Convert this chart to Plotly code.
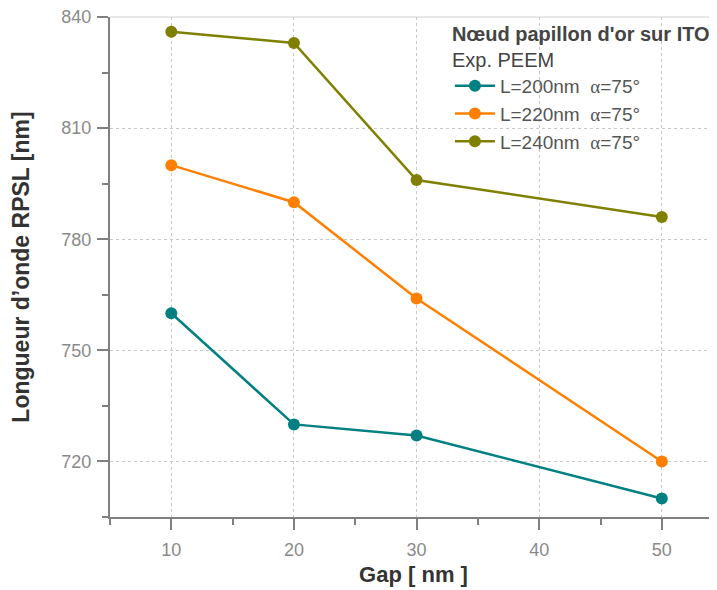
import plotly.graph_objects as go

gap = [10, 20, 30, 50]
l200 = [760, 730, 727, 710]
l220 = [800, 790, 764, 720]
l240 = [836, 833, 796, 786]
names = ["L=200nm", "L=220nm", "L=240nm"]
colors = ["#008080", "#FF8000", "#808000"]
series = [l200, l220, l240]

fig = go.Figure()
for nm, ys, c in zip(names, series, colors):
    fig.add_trace(go.Scatter(
        x=gap, y=ys, mode="lines+markers",
        name=nm + "  <span style='font-family:Liberation Serif'>α</span>=75°",
        line=dict(color=c, width=2.5),
        marker=dict(color=c, size=12),
    ))

axis_common = dict(
    showline=True, linecolor="#808080", linewidth=2,
    ticks="outside", ticklen=11, tickwidth=2, tickcolor="#808080",
    tickfont=dict(size=18, color="#8a8a8a"),
    showgrid=True, gridcolor="#c8c8c8", griddash="dot", gridwidth=1,
    zeroline=False, automargin=False, ticklabeloverflow="allow",
)

# page body has an 8px margin: figure is sized/offset to fit the 717x590 window
fig.update_layout(
    width=709, height=582,
    margin=dict(l=102, r=0, t=9, b=73),
    plot_bgcolor="white", paper_bgcolor="white",
    font=dict(family="Liberation Sans, Arial, sans-serif"),
    xaxis=dict(
        range=[5, 54.5], tickvals=[10, 20, 30, 40, 50],
        ticklabelstandoff=4,
        title=dict(text="<b>Gap [ nm ]</b>", font=dict(size=22, color="#333333"), standoff=8),
        minor=dict(dtick=5, tick0=0, ticks="outside", ticklen=6, tickwidth=2, tickcolor="#808080", showgrid=False),
        **axis_common,
    ),
    yaxis=dict(
        range=[705, 840], tickvals=[720, 750, 780, 810, 840],
        ticklabelstandoff=2,
        title=dict(text="<b>Longueur d’onde RPSL [nm]</b>", font=dict(size=23, color="#333333"), standoff=32),
        minor=dict(dtick=15, tick0=0, ticks="outside", ticklen=6, tickwidth=2, tickcolor="#808080", showgrid=False),
        **axis_common,
    ),
    legend=dict(
        x=0.56, y=1.004, xanchor="left", yanchor="top",
        bgcolor="rgba(255,255,255,0)",
        font=dict(size=19, color="#555555"),
        title=dict(text="<b>Nœud papillon d'or sur ITO</b><br>Exp. PEEM",
                   font=dict(size=20, color="#444444"), side="top"),
        tracegroupgap=0, itemwidth=40,
    ),
    shapes=[dict(type="line", xref="paper", yref="paper", x0=0, x1=1, y0=1, y1=1,
                 line=dict(color="#d0d0d0", width=1))],
)

fig.write_html("out.html")
